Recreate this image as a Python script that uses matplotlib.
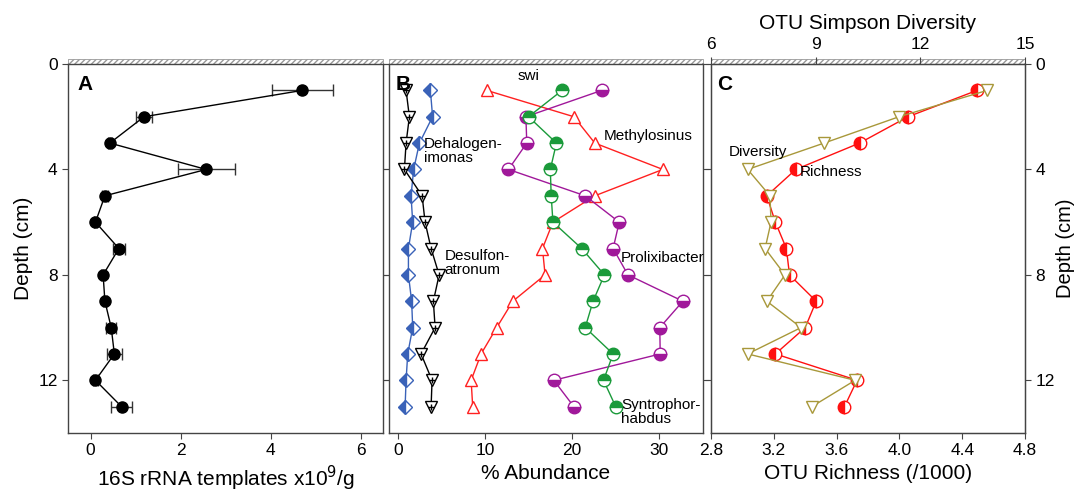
import matplotlib
matplotlib.use("Agg")
import matplotlib.pyplot as plt
from matplotlib.patches import Rectangle

plt.rcParams['font.family'] = ['Liberation Sans', 'DejaVu Sans']

# depth (cm) of each sample
depth = [1, 2, 3, 4, 5, 6, 7, 8, 9, 10, 11, 12, 13]

# A: 16S rRNA templates x10^9/g
templates = [4.71, 1.19, 0.43, 2.57, 0.32, 0.11, 0.63, 0.28, 0.32, 0.46, 0.53, 0.11, 0.69]
templates_err = [0.68, 0.17, 0.05, 0.63, 0.06, 0.04, 0.13, 0.04, 0.04, 0.11, 0.17, 0.06, 0.24]

# B: % abundance
desulfonatronum = [0.96, 1.34, 0.96, 0.77, 2.8, 3.14, 3.83, 4.75, 4.09, 4.29, 2.68, 3.94, 3.83]
dehalogenimonas = [3.75, 4.0, 2.49, 1.83, 1.53, 1.72, 1.23, 1.23, 1.6, 1.72, 1.15, 0.96, 0.85]
methylosinus = [10.2, 20.2, 22.6, 30.4, 22.6, 17.8, 16.6, 16.9, 13.2, 11.35, 9.56, 8.42, 8.6]
prolixibacter = [23.4, 14.7, 14.8, 12.7, 21.5, 25.4, 24.7, 26.4, 32.7, 30.05, 30.1, 17.9, 20.2]
syntrophorhabdus = [18.85, 15.0, 18.2, 17.5, 17.6, 17.8, 21.1, 23.7, 22.4, 21.5, 24.7, 23.6, 25.0]

# C: OTU richness (/1000) and Simpson diversity
richness = [4.495, 4.055, 3.746, 3.34, 3.155, 3.21, 3.28, 3.30, 3.47, 3.40, 3.21, 3.73, 3.65]
diversity = [13.92, 11.39, 9.24, 7.05, 7.69, 7.72, 7.55, 8.12, 7.6, 8.58, 7.05, 10.13, 8.89]

depth_ticks = [0, 4, 8, 12]

fig = plt.figure(figsize=(10.76, 4.92), dpi=100)
ax_a = fig.add_axes([0.0632, 0.1199, 0.2928, 0.75])
ax_b = fig.add_axes([0.3615, 0.1199, 0.2918, 0.75])
ax_c = fig.add_axes([0.6608, 0.1199, 0.2918, 0.75])

for ax in (ax_a, ax_b, ax_c):
    ax.set_ylim(14, 0)
    ax.set_yticks(depth_ticks)
    ax.tick_params(direction='out', length=4, width=0.8, labelsize=12.5, color='#444444')
    ax.tick_params(axis='y', left=True, right=True, labelleft=False, labelright=False)
    for sp in ax.spines.values():
        sp.set_color('#444444')
        sp.set_linewidth(1.0)
    # hatched band above the sediment-water interface
    ax.add_patch(Rectangle((0, 1.0), 1, 0.014, transform=ax.transAxes, clip_on=False,
                           facecolor='white', edgecolor='#999999', hatch='//////', lw=0.6))

# ---------------- A ----------------
ax_a.errorbar(templates, depth, xerr=templates_err, color='black', lw=1, ecolor='#333333',
              elinewidth=1, capsize=4, marker='o', ms=8, mfc='black', mec='black')
ax_a.set_xlim(-0.5, 6.5)
ax_a.set_xticks([0, 2, 4, 6])
ax_a.tick_params(axis='y', labelleft=True)
ax_a.set_ylabel('Depth (cm)', fontsize=15)
ax_a.set_xlabel('16S rRNA templates x10$^{9}$/g', fontsize=15)
ax_a.text(0.03, 0.97, 'A', transform=ax_a.transAxes, fontsize=15, fontweight='bold', va='top')

# ---------------- B ----------------
blue = '#3a62b8'
ax_b.plot(dehalogenimonas, depth, color=blue, lw=1, marker='D', ms=7, fillstyle='left',
          mfc=blue, mfcalt='white', mec=blue)
ax_b.plot(desulfonatronum, depth, color='black', lw=1, marker='v', ms=8, mfc='white', mec='black')
ax_b.plot(desulfonatronum, depth, ls='none', marker='+', ms=4, mew=1, color='black')
ax_b.plot(methylosinus, depth, color='#ff2020', lw=1, marker='^', ms=9, mfc='white', mec='#ff2020')
purple = '#a0189a'
ax_b.plot(prolixibacter, depth, color=purple, lw=1, marker='o', ms=9, fillstyle='bottom',
          mfc=purple, mfcalt='white', mec=purple)
green = '#1a9a3a'
ax_b.plot(syntrophorhabdus, depth, color=green, lw=1, marker='o', ms=9, fillstyle='top',
          mfc=green, mfcalt='white', mec=green)
ax_b.set_xlim(-1, 35)
ax_b.set_xticks([0, 10, 20, 30])
ax_b.set_xlabel('% Abundance', fontsize=15)
ax_b.text(0.02, 0.97, 'B', transform=ax_b.transAxes, fontsize=15, fontweight='bold', va='top')
lab = dict(fontsize=11, va='center', ha='left', linespacing=1.0)
ax_b.text(13.8, 0.45, 'swi', **lab)
ax_b.text(3.0, 3.3, 'Dehalogen-\nimonas', **lab)
ax_b.text(23.6, 2.75, 'Methylosinus', **lab)
ax_b.text(5.4, 7.55, 'Desulfon-\natronum', **lab)
ax_b.text(25.6, 7.35, 'Prolixibacter', **lab)
ax_b.text(25.6, 13.2, 'Syntrophor-\nhabdus', **lab)

# ---------------- C ----------------
red = '#ff1010'
olive = '#a8983a'
ax_c.plot(richness, depth, color=red, lw=1, marker='o', ms=9, fillstyle='left',
          mfc=red, mfcalt='white', mec=red, zorder=3)
ax_c.set_xlim(2.8, 4.8)
ax_c.set_xticks([2.8, 3.2, 3.6, 4.0, 4.4, 4.8])
ax_c.set_xticklabels(['2.8', '3.2', '3.6', '4.0', '4.4', '4.8'])
ax_c.tick_params(axis='y', labelright=True)
ax_c.yaxis.set_label_position('right')
ax_c.set_ylabel('Depth (cm)', fontsize=14.5, labelpad=1)
ax_c.set_xlabel('OTU Richness (/1000)', fontsize=15)
ax_c.text(0.02, 0.97, 'C', transform=ax_c.transAxes, fontsize=15, fontweight='bold', va='top')

ax_top = ax_c.twiny()
ax_top.plot(diversity, depth, color=olive, lw=1, marker='v', ms=9, mfc='white', mec=olive, zorder=2)
ax_top.set_xlim(6, 15)
ax_top.set_xticks([6, 9, 12, 15])
ax_top.set_ylim(14, 0)
ax_top.tick_params(direction='out', length=5, width=0.8, labelsize=12.5, color='#444444')
ax_top.set_xlabel('OTU Simpson Diversity', fontsize=15, labelpad=6)
for sp in ax_top.spines.values():
    sp.set_color('#444444')
ax_top.text(6.5, 3.35, 'Diversity', fontsize=11, va='center')
ax_top.text(8.55, 4.1, 'Richness', fontsize=11, va='center')

fig.savefig('out.png', dpi=100)
